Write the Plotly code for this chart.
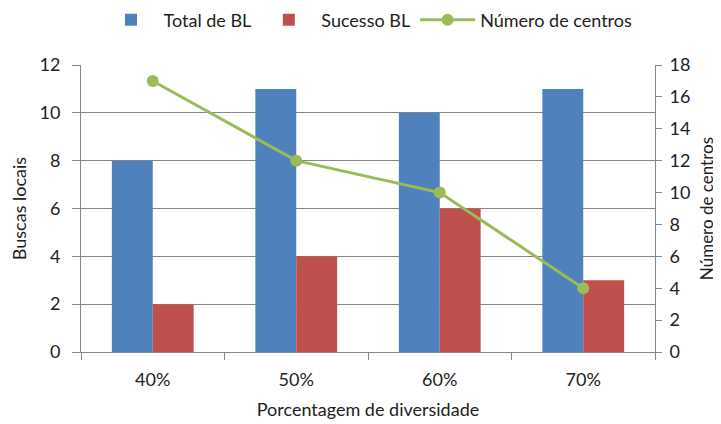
import plotly.graph_objects as go

categories = ['40%', '50%', '60%', '70%']
total_bl = [8, 11, 10, 11]
sucesso_bl = [2, 4, 6, 3]
num_centros = [17, 12, 10, 4]

left_ticks = [0, 2, 4, 6, 8, 10, 12]
right_ticks = [0, 2, 4, 6, 8, 10, 12, 14, 16, 18]

font_family = "Lato, 'Open Sans', sans-serif"
axis_gray = '#868686'

fig = go.Figure()

fig.add_trace(go.Bar(
    x=categories, y=total_bl, name='Total de BL',
    marker=dict(color='#4F81BD', line=dict(width=0))
))
fig.add_trace(go.Bar(
    x=categories, y=sucesso_bl, name='Sucesso BL',
    marker=dict(color='#C0504D', line=dict(width=0))
))
fig.add_trace(go.Scatter(
    x=categories, y=num_centros, name='Número de centros',
    mode='lines+markers', yaxis='y2',
    line=dict(color='#9BBB59', width=3),
    marker=dict(color='#9BBB59', size=12)
))

fig.update_layout(
    width=721, height=424,
    margin=dict(l=73, r=74, t=57, b=80, autoexpand=False),
    paper_bgcolor='white', plot_bgcolor='white',
    font=dict(family=font_family, size=18, color='#222222'),
    barmode='group', bargap=0.43, bargroupgap=0,
    showlegend=True,
    legend=dict(orientation='h', x=0.5, xanchor='center', y=1.157, yanchor='middle',
                font=dict(size=18), traceorder='normal', itemwidth=55),
    xaxis=dict(
        title=dict(text='Porcentagem de diversidade', font=dict(size=18), standoff=14),
        showline=True, linecolor=axis_gray, linewidth=1,
        ticks='outside', tickson='boundaries', ticklen=7, tickcolor=axis_gray,
        ticklabelstandoff=11,
        showgrid=False
    ),
    yaxis=dict(
        title=dict(text='Buscas locais', font=dict(size=18), standoff=12),
        range=[0, 12], tickvals=left_ticks,
        showline=True, linecolor=axis_gray, linewidth=1,
        ticks='outside', ticklen=8, tickcolor=axis_gray,
        ticklabelstandoff=8,
        showgrid=True, gridcolor=axis_gray, gridwidth=1,
        zeroline=False
    ),
    yaxis2=dict(
        range=[0, 18], tickvals=right_ticks,
        overlaying='y', side='right',
        showline=True, linecolor=axis_gray, linewidth=1,
        ticks='outside', ticklen=6, tickcolor=axis_gray,
        ticklabelstandoff=4,
        showgrid=False, zeroline=False
    ),
    annotations=[dict(
        text='Número de centros', textangle=-90, showarrow=False,
        xref='paper', yref='paper', x=1.09, y=0.5,
        xanchor='center', yanchor='middle', font=dict(size=17)
    )]
)

fig.write_html("out.html")
